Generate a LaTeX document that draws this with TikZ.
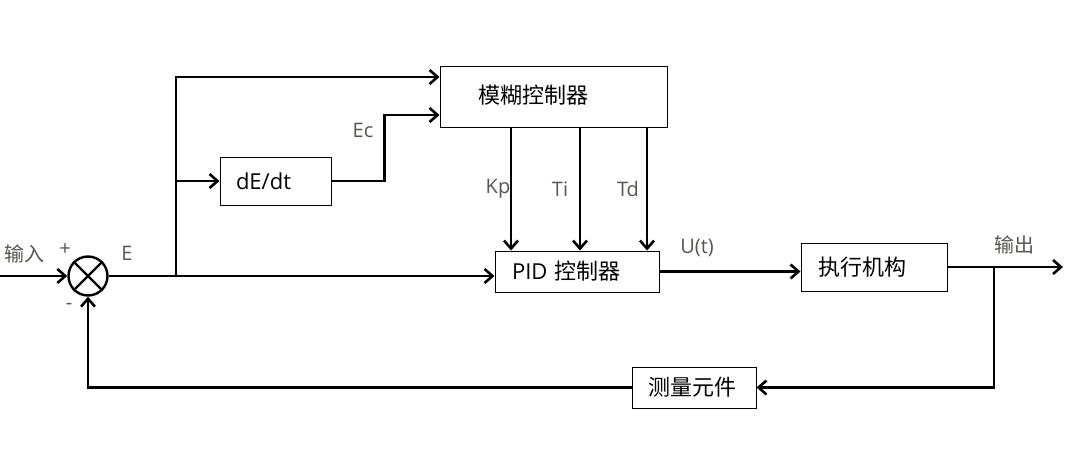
\documentclass[tikz,border=0pt]{standalone}
\usepackage{fontspec}
\setmainfont{Open Sans}
\newfontfamily\cjk{Noto Sans CJK SC}
\usetikzlibrary{arrows.meta}
\definecolor{lblgray}{HTML}{595451}

\begin{document}
\begin{tikzpicture}[x=0.5pt, y=-0.5pt, font=\fontsize{10}{12}\selectfont,
    box/.style={draw, line width=0.5pt, inner ysep=0pt, align=left, font=\fontsize{11}{13}\selectfont},
    lbl/.style={text=lblgray, inner sep=0pt},
    arr/.style={line width=1.3pt, -{Straight Barb[length=4pt, width=7pt]}},
    line/.style={line width=1.2pt}]
            \useasboundingbox (0,0) rectangle (1080,467);

            % Blocks
            \node[circle, draw, line width=1.2pt, minimum size=19.5pt, inner sep=0pt] (sum) at (88,276) {};
            \draw[line] (sum.45) -- (sum.225) (sum.135) -- (sum.-45);
            \node[box, minimum height=30.5pt, inner xsep=19pt, text width=75.5pt] (fuzzy) at (553.5,96.5) {\raisebox{2pt}{\cjk 模糊控制器}};
            \node[box, minimum height=24pt, inner xsep=8pt, text width=39.5pt] (dedt) at (275.5,181) {dE/dt};
            \node[box, minimum height=20.5pt, inner xsep=8.5pt, text width=65pt] (pid) at (577,271.5) {PID {\cjk 控制器}};
            \node[box, minimum height=24pt, inner xsep=8.5pt, text width=56pt] (act) at (874,267) {\cjk 执行机构};
            \node[box, minimum height=20.5pt, inner xsep=8pt, text width=46pt] (meas) at (694,387.5) {\cjk 测量元件};

            % Free ends and branch points
            \coordinate (in) at (0,276);
            \coordinate (br) at (176,276);
            \coordinate (out) at (1063,267);
            \coordinate (fb) at (994,267);

            % Forward path
            \draw[arr] (in) -- (sum.west);
            \draw[arr] (sum.east) -- (pid.west |- sum.east);
            \draw[arr] (br) |- ([yshift=9.75pt]fuzzy.west);
            \draw[arr] (br |- dedt) -- (dedt.west);
            \draw[arr] (dedt.east) -- ++(53,0) |- ([yshift=-9.25pt]fuzzy.west);
            \foreach \dx/\lx/\lab in {-33pt/498/Kp, 1.5pt/560/Ti, 35pt/628/Td}{
                \draw[arr] ([xshift=\dx]pid.north |- fuzzy.south) -- ([xshift=\dx]pid.north);
                \node[lbl] (gain\lab) at (\lx,189) {\lab};
            }
            \draw[arr] (pid.east) -- (pid.east -| act.west);
            \draw[arr] (act.east) -- (out);

            % Feedback path
            \draw[arr] (fb) |- (meas.east);
            \draw[arr] (meas.west) -| (sum.south);

            % Labels
            \node[lbl] (lin) at (24,254) {\cjk 输入};
            \node[lbl] (lplus) at (65,250) {+};
            \node[lbl] (lminus) at (69,306) {-};
            \node[lbl] (lE) at (127,253) {E};
            \node[lbl] (lEc) at (363,130) {Ec};
            \node[lbl] (lU) at (697,248) {U(t)};
            \node[lbl] (lout) at (1014,245) {\cjk 输出};
        \end{tikzpicture}
\end{document}
